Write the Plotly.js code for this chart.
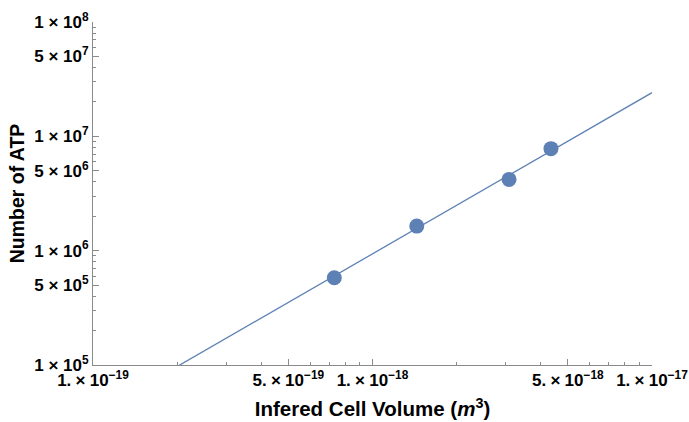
<!DOCTYPE html>
<html>
<head>
<meta charset="utf-8">
<script src="https://cdn.plot.ly/plotly-3.0.1.min.js"></script>
<style>html,body{margin:0;padding:0;background:#fff;}#chart{width:689px;height:422px;}</style>
</head>
<body>
<div id="chart"></div>
<script>
// Measured data points
const volumes = [7.3e-19, 1.44e-18, 3.08e-18, 4.35e-18];
const atpCounts = [5.8e5, 1.64e6, 4.2e6, 7.8e6];

// Fitted power-law line (endpoints)
const fitVolumes = [1e-19, 1e-17];
const fitAtp = [3.65e4, 2.41e7];

// Tick labels
const xTickVals = [1e-19, 5e-19, 1e-18, 5e-18, 1e-17];
const xTickText = ['1.\u2005×\u200510<sup>\u221219</sup>', '5.\u2005×\u200510<sup>\u221219</sup>', '1.\u2005×\u200510<sup>\u221218</sup>', '5.\u2005×\u200510<sup>\u221218</sup>', '1.\u2005×\u200510<sup>\u221217</sup>'];
const xMinorVals = [2e-19, 3e-19, 4e-19, 6e-19, 7e-19, 8e-19, 9e-19, 2e-18, 3e-18, 4e-18, 6e-18, 7e-18, 8e-18, 9e-18];
const yTickVals = [1e5, 5e5, 1e6, 5e6, 1e7, 5e7, 1e8];
const yTickText = ['1 × 10<sup>5</sup>', '5 × 10<sup>5</sup>', '1 × 10<sup>6</sup>', '5 × 10<sup>6</sup>', '1 × 10<sup>7</sup>', '5 × 10<sup>7</sup>', '1 × 10<sup>8</sup>'];
const yMinorVals = [2e5, 3e5, 4e5, 6e5, 7e5, 8e5, 9e5, 2e6, 3e6, 4e6, 6e6, 7e6, 8e6, 9e6, 2e7, 3e7, 4e7, 6e7, 7e7, 8e7, 9e7];

const color = '#5e81b5';
const fontFam = 'Liberation Sans, Arial, sans-serif';

const traces = [
  {x: fitVolumes, y: fitAtp, mode: 'lines', line: {color: color, width: 1.3}, hoverinfo: 'skip', showlegend: false},
  {x: volumes, y: atpCounts, mode: 'markers', marker: {color: color, size: 15}, showlegend: false, cliponaxis: false}
];

const axisCommon = {
  type: 'log', showgrid: false, zeroline: false, showline: true, linecolor: '#8a8a8a', linewidth: 1,
  ticks: 'inside', ticklen: 6, tickcolor: '#8a8a8a', tickwidth: 1, tickmode: 'array',
  tickfont: {family: fontFam, size: 17, color: '#000', weight: 'bold'},
  mirror: false
};

const layout = {
  width: 689, height: 422,
  margin: {l: 93, r: 37, t: 22, b: 57},
  paper_bgcolor: '#fff', plot_bgcolor: '#fff',
  showlegend: false,
  xaxis: Object.assign({}, axisCommon, {
    range: [-19, -17], tickvals: xTickVals, ticktext: xTickText,
    minor: {tickmode: 'array', tickvals: xMinorVals, ticks: 'inside', ticklen: 3, tickcolor: '#8a8a8a', tickwidth: 1},
    title: {text: 'Infered Cell Volume (<i>m</i><sup>3</sup>)', font: {family: fontFam, size: 20.5, color: '#000', weight: 'bold'}, standoff: 12}
  }),
  yaxis: Object.assign({}, axisCommon, {
    range: [5, 8], tickvals: yTickVals, ticktext: yTickText,
    minor: {tickmode: 'array', tickvals: yMinorVals, ticks: 'inside', ticklen: 3, tickcolor: '#8a8a8a', tickwidth: 1},
    title: {text: 'Number of ATP', font: {family: fontFam, size: 19.5, color: '#000', weight: 'bold'}, standoff: 4}
  })
};

Plotly.newPlot('chart', traces, layout, {displayModeBar: false, staticPlot: true});
</script>
</body>
</html>
